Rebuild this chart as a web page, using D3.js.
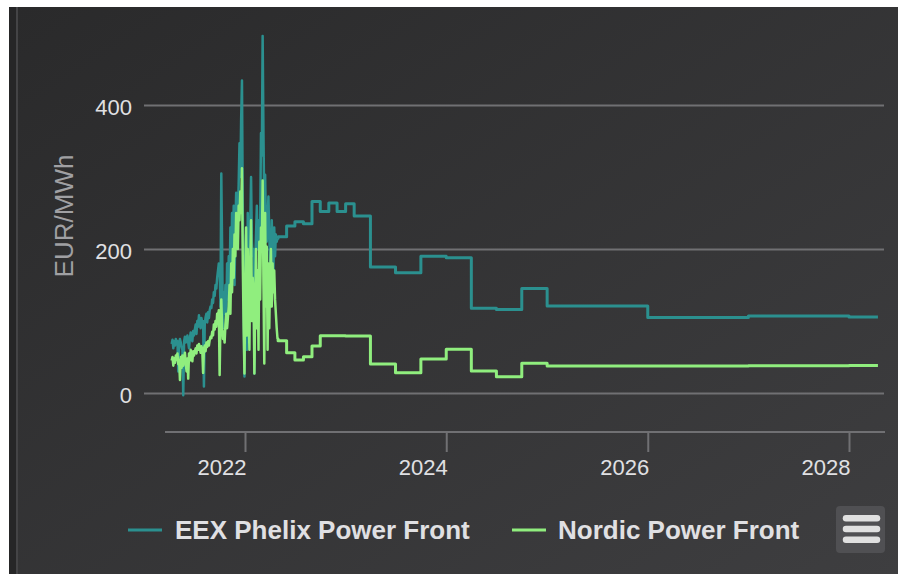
<!DOCTYPE html>
<html>
<head>
<meta charset="utf-8">
<script src="https://cdn.jsdelivr.net/npm/d3@7/dist/d3.min.js"></script>
<style>
  html, body { margin: 0; padding: 0; background: #ffffff; }
  svg { display: block; }
  text { font-family: "Liberation Sans", Arial, sans-serif; }
</style>
</head>
<body>
<svg id="chart" width="898" height="574"></svg>
<script>
// ---------------- DATA ----------------
const seriesNames = ["EEX Phelix Power Front", "Nordic Power Front"];
const seriesColors = ["#2b908f", "#90ee7e"];
const yTickValues = [0, 200, 400];
const xTickYears = [2022, 2024, 2026, 2028];
const yAxisTitle = "EUR/MWh";

// historical daily-ish prices, one value every 3 days starting 2021-04-10
const histStart = "2021-04-10";
const histStepDays = 3;
const eexHist = [
  68, 74, 62, 72, 66, 75, 70,                                   // Apr 2021
  72, 30, 68, 75, 70, 64, 60, -3, 72, 78, 70,                   // May
  74, 80, 70, 62, 76, 84, 78, 72, 86, 80,                       // Jun
  88, 95, 82, 100, 92, 108, 96, 90, 104, 98,                    // Jul
  100, 9, 96, 105, 110, 98, 112, 104, 115, 120,                 // Aug
  118, 130, 125, 140, 135, 150, 145, 160, 170, 180,             // Sep
  175, 120, 305, 200, 90, 140, 110, 150, 100, 180, 130,         // Oct
  190, 140, 230, 160, 250, 180, 260, 150, 230, 278,             // Nov
  260, 240, 290, 347, 300, 380, 434, 250, 140, 23,              // Dec
  150, 220, 60, 250, 200, 170, 230, 300, 210, 190,              // Jan 2022
  200, 27, 180, 220, 260, 200, 240, 180, 230, 361,              // Feb
  330, 496, 360, 250, 303, 230, 210, 240, 273, 220,             // Mar
  180, 150, 240, 200, 170, 230, 190, 220, 210, 215              // Apr
];
const nordicHist = [
  45, 50, 38, 48, 42, 52, 46,                                   // Apr 2021
  55, 40, 46, 18, 50, 35, 52, 38, 48, 56, 42,                   // May
  30, 48, 20, 55, 45, 60, 50, 44, 58, 52,                       // Jun
  58, 62, 55, 66, 60, 68, 63, 56, 65, 60,                       // Jul
  28, 62, 66, 58, 70, 64, 72, 66, 74, 78,                       // Aug
  76, 85, 80, 95, 88, 100, 92, 110, 105, 115,                   // Sep
  25, 100, 130, 90, 75, 85, 70, 95, 110, 90, 105,               // Oct
  120, 150, 110, 180, 140, 200, 160, 220, 190, 250,             // Nov
  230, 200, 260, 240, 280, 250, 312, 180, 90, 27,               // Dec
  150, 230, 80, 200, 120, 60, 180, 240, 100, 160,               // Jan 2022
  140, 27, 120, 200, 90, 170, 60, 210, 130, 230,                // Feb
  200, 295, 150, 41, 250, 120, 203, 60, 180, 90,                // Mar
  160, 200, 120, 180, 140, 170, 130, 110, 90, 75                // Apr
];

// forward curve (contract start dates, step values)
const fwdDates = [
  "2022-05-01", "2022-06-01", "2022-07-01", "2022-08-01", "2022-09-01",
  "2022-10-01", "2022-11-01", "2022-12-01", "2023-01-01", "2023-02-01",
  "2023-04-01", "2023-07-01", "2023-10-01", "2024-01-01", "2024-04-01",
  "2024-07-01", "2024-10-01", "2025-01-01", "2026-01-01", "2027-01-01",
  "2028-01-01", "2028-04-15"
];
const eexFwd = [
  217, 232, 238, 235, 266,
  252, 264, 252, 263, 246,
  175, 167, 190, 188, 117.6,
  116, 145, 121, 105, 107,
  105.5, 105.5
];
const nordicFwd = [
  72.7, 56, 45.8, 50.5, 65.3,
  79.6, 79.6, 79.6, 79, 79,
  40.3, 28.2, 47.2, 60.6, 30.5,
  22.7, 41.2, 37.5, 37.5, 38,
  38.3, 38.3
];

// ---------------- BUILD ----------------
const parse = d3.utcParse("%Y-%m-%d");
const t0 = parse(histStart);
function histPoints(vals) {
  return vals.map((v, i) => ({ date: d3.utcDay.offset(t0, i * histStepDays), value: v }));
}
function fwdPoints(vals) {
  return vals.map((v, i) => ({ date: parse(fwdDates[i]), value: v }));
}
const series = [
  { name: seriesNames[0], color: seriesColors[0], hist: histPoints(eexHist), fwd: fwdPoints(eexFwd) },
  { name: seriesNames[1], color: seriesColors[1], hist: histPoints(nordicHist), fwd: fwdPoints(nordicFwd) }
];

const svg = d3.select("#chart");

// page frame / background
const defs = svg.append("defs");
const grad = defs.append("linearGradient").attr("id", "bg")
  .attr("x1", 0).attr("y1", 0).attr("x2", 1).attr("y2", 1);
grad.append("stop").attr("offset", "0%").attr("stop-color", "#2a2a2b");
grad.append("stop").attr("offset", "100%").attr("stop-color", "#3e3e40");

svg.append("rect").attr("x", 9).attr("y", 7).attr("width", 9).attr("height", 567).attr("fill", "#262627");
svg.append("rect").attr("x", 16).attr("y", 7).attr("width", 2).attr("height", 567).attr("fill", "#444446");
svg.append("rect").attr("x", 18).attr("y", 7).attr("width", 880).attr("height", 567).attr("fill", "url(#bg)");

// scales
const plotLeft = 144, plotRight = 884;
const x = d3.scaleUtc()
  .domain([new Date(Date.UTC(2022, 0, 1)), new Date(Date.UTC(2028, 0, 1))])
  .range([245, 849]);
const y = d3.scaleLinear().domain([0, 400]).range([393, 105]);

// y grid + labels
const yAxis = d3.axisLeft(y).tickValues(yTickValues)
  .tickSize(-(plotRight - plotLeft)).tickPadding(12).tickFormat(d3.format("d"));
const gy = svg.append("g").attr("transform", `translate(${plotLeft},0)`).call(yAxis);
gy.select(".domain").remove();
gy.selectAll(".tick line").attr("stroke", "#707073").attr("stroke-width", 2);
gy.selectAll(".tick text").attr("fill", "#E0E0E3").attr("font-size", 22).attr("dy", "0.43em")
  .attr("font-family", "Liberation Sans, Arial, sans-serif");

// y title
svg.append("text")
  .attr("transform", "translate(73,216) rotate(-90)")
  .attr("text-anchor", "middle")
  .attr("fill", "#A0A0A3")
  .attr("font-size", 26)
  .text(yAxisTitle);

// x axis
const xAxisY = 432;
svg.append("line").attr("x1", 165).attr("x2", 885).attr("y1", xAxisY).attr("y2", xAxisY)
  .attr("stroke", "#707073").attr("stroke-width", 2);
const xAxis = d3.axisBottom(x)
  .tickValues(xTickYears.map(yr => new Date(Date.UTC(yr, 0, 1))))
  .tickSize(20).tickPadding(4).tickFormat(d3.utcFormat("%Y"));
const gx = svg.append("g").attr("transform", `translate(0,${xAxisY})`).call(xAxis);
gx.select(".domain").remove();
gx.selectAll(".tick line").attr("stroke", "#707073").attr("stroke-width", 2);
gx.selectAll(".tick text").attr("fill", "#E0E0E3").attr("font-size", 22)
  .attr("text-anchor", "end").attr("x", 1).attr("dy", "0.85em")
  .attr("font-family", "Liberation Sans, Arial, sans-serif");

// lines
const lineHist = d3.line().x(d => x(d.date)).y(d => y(d.value)).curve(d3.curveLinear);
const lineFwd = d3.line().x(d => x(d.date)).y(d => y(d.value)).curve(d3.curveStepAfter);
const gLines = svg.append("g");
series.forEach(s => {
  const last = s.hist[s.hist.length - 1];
  gLines.append("path").datum(s.hist).attr("d", lineHist)
    .attr("fill", "none").attr("stroke", s.color).attr("stroke-width", 2.5)
    .attr("stroke-linejoin", "round");
  gLines.append("path").datum([last].concat(s.fwd)).attr("d", lineFwd)
    .attr("fill", "none").attr("stroke", s.color).attr("stroke-width", 3)
    .attr("stroke-linejoin", "round");
});

// legend
const legendItems = [
  { sx: 128, tx: 175 },
  { sx: 512, tx: 558 }
];
const gLeg = svg.append("g");
series.forEach((s, i) => {
  const it = legendItems[i];
  gLeg.append("line").attr("x1", it.sx).attr("x2", it.sx + 34).attr("y1", 530).attr("y2", 530)
    .attr("stroke", s.color).attr("stroke-width", 3);
  gLeg.append("text").attr("x", it.tx).attr("y", 539)
    .attr("fill", "#E0E0E3").attr("font-size", 26).attr("font-weight", "bold")
    .text(s.name);
});

// menu button
const gBtn = svg.append("g");
gBtn.append("rect").attr("x", 836).attr("y", 506).attr("width", 49).attr("height", 47)
  .attr("rx", 4).attr("fill", "#505053");
[518.3, 529, 539.7].forEach(cy => {
  gBtn.append("line").attr("x1", 846).attr("x2", 877).attr("y1", cy).attr("y2", cy)
    .attr("stroke", "#E0E0E0").attr("stroke-width", 6.5).attr("stroke-linecap", "round");
});
</script>
</body>
</html>
